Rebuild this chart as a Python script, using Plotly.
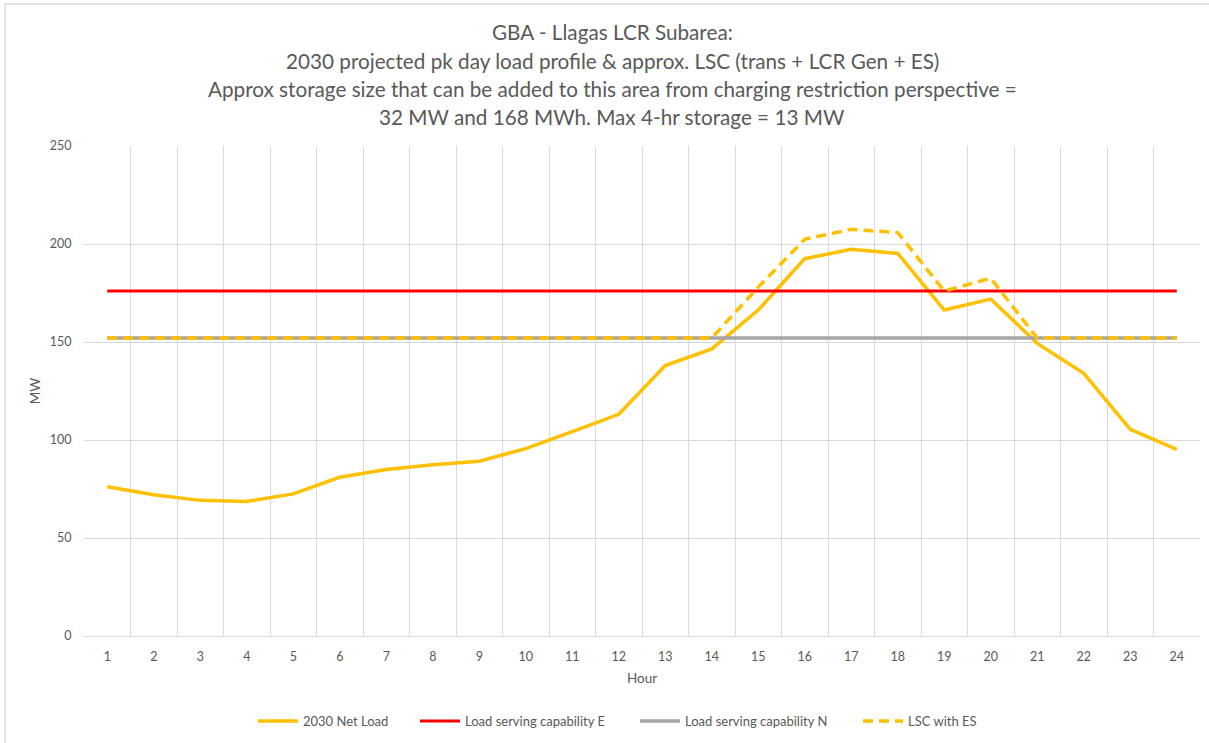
import plotly.graph_objects as go

hours = list(range(1, 25))
net_load = [76.1, 72.1, 69.2, 68.6, 72.5, 81.0, 85.0, 87.4, 89.2, 95.6, 104.3, 113.1,
            138.0, 146.5, 166.3, 192.5, 197.3, 195.2, 166.3, 171.9, 149.3, 134.0, 105.4, 95.2]
lsc_e = [176] * 24
lsc_n = [152] * 24
lsc_es = [152, 152, 152, 152, 152, 152, 152, 152, 152, 152, 152, 152,
          152, 152, 178.0, 202.4, 207.5, 205.8, 176.0, 182.5, 152, 152, 152, 152]
names = ["2030 Net Load", "Load serving capability E", "Load serving capability N", "LSC with ES"]
title_lines = [
    "GBA - Llagas LCR Subarea:",
    "2030 projected pk day load profile & approx. LSC (trans + LCR Gen + ES)",
    "Approx storage size that can be added to this area from charging restriction perspective =",
    "32 MW and 168 MWh. Max 4-hr storage = 13 MW",
]

FONT = "Lato"
TXT = "#595959"
GRID = "#d9d9d9"

W, H = 1209, 743
L, R, T, B = 84, 1200, 146, 636
PH = B - T


def py(p):
    return (B - p) / PH


def px(p):
    return (p - L) / (R - L)


legend_ids = ["legend", "legend2", "legend3", "legend4"]
legend_x = [258, 420, 640, 863]

fig = go.Figure()
fig.add_trace(go.Scatter(x=hours, y=net_load, name=names[0], mode="lines", legend=legend_ids[0],
                         line=dict(color="#FFC000", width=3.5)))
fig.add_trace(go.Scatter(x=hours, y=lsc_e, name=names[1], mode="lines", legend=legend_ids[1],
                         line=dict(color="#FF0000", width=3)))
fig.add_trace(go.Scatter(x=hours, y=lsc_n, name=names[2], mode="lines", legend=legend_ids[2],
                         line=dict(color="#A5A5A5", width=3.5)))
fig.add_trace(go.Scatter(x=hours, y=lsc_es, name=names[3], mode="lines", legend=legend_ids[3],
                         line=dict(color="#FFC000", width=3.5, dash="10px,6px")))

legend_layout = {}
for lid, lx in zip(legend_ids, legend_x):
    legend_layout[lid] = dict(orientation="h", x=px(lx - 5), xanchor="left", y=py(721),
                              yanchor="middle", font=dict(size=13, color=TXT),
                              itemwidth=40, bgcolor="rgba(0,0,0,0)", borderwidth=0)

fig.update_layout(
    width=W, height=H,
    margin=dict(l=L, r=W - R, t=T, b=H - B, autoexpand=False),
    paper_bgcolor="white", plot_bgcolor="white",
    font=dict(family=FONT, color=TXT, size=12),
    showlegend=True,
    xaxis=dict(range=[0.5, 24.5], tickmode="array", tickvals=hours,
               ticktext=[str(h) for h in hours], showgrid=False, zeroline=False,
               showline=True, linecolor=GRID, ticks="outside", ticklen=9,
               tickcolor="rgba(0,0,0,0)",
               tickfont=dict(size=12.5, color=TXT),
               title=dict(text="Hour", font=dict(size=13.5, color=TXT), standoff=10),
               minor=dict(tickmode="linear", tick0=0.5, dtick=1, showgrid=True,
                          gridcolor=GRID, gridwidth=1)),
    yaxis=dict(range=[0, 250], tickmode="linear", tick0=0, dtick=50,
               showgrid=True, gridcolor=GRID, gridwidth=1, zeroline=False,
               showline=False, ticks="outside", ticklen=9, tickcolor="rgba(0,0,0,0)",
               tickfont=dict(size=12.5, color=TXT),
               title=dict(text="MW", font=dict(size=13.5, color=TXT), standoff=6)),
    **legend_layout,
)

for txt, yc in zip(title_lines, [32, 61, 89, 117]):
    fig.add_annotation(text=txt, xref="paper", yref="paper", x=px(612), y=py(yc),
                       xanchor="center", yanchor="middle", showarrow=False,
                       font=dict(family=FONT, size=20.7, color=TXT))

# chart-area border (left and top edges visible in reference)
fig.add_shape(type="rect", xref="paper", yref="paper",
              x0=px(5), x1=px(1214), y0=py(747), y1=py(4),
              line=dict(color=GRID, width=1.3), fillcolor="rgba(0,0,0,0)", layer="below")

fig.write_html("out.html", config={"displayModeBar": False},
               post_script="document.body.style.margin='0px';document.body.style.padding='0px';")
